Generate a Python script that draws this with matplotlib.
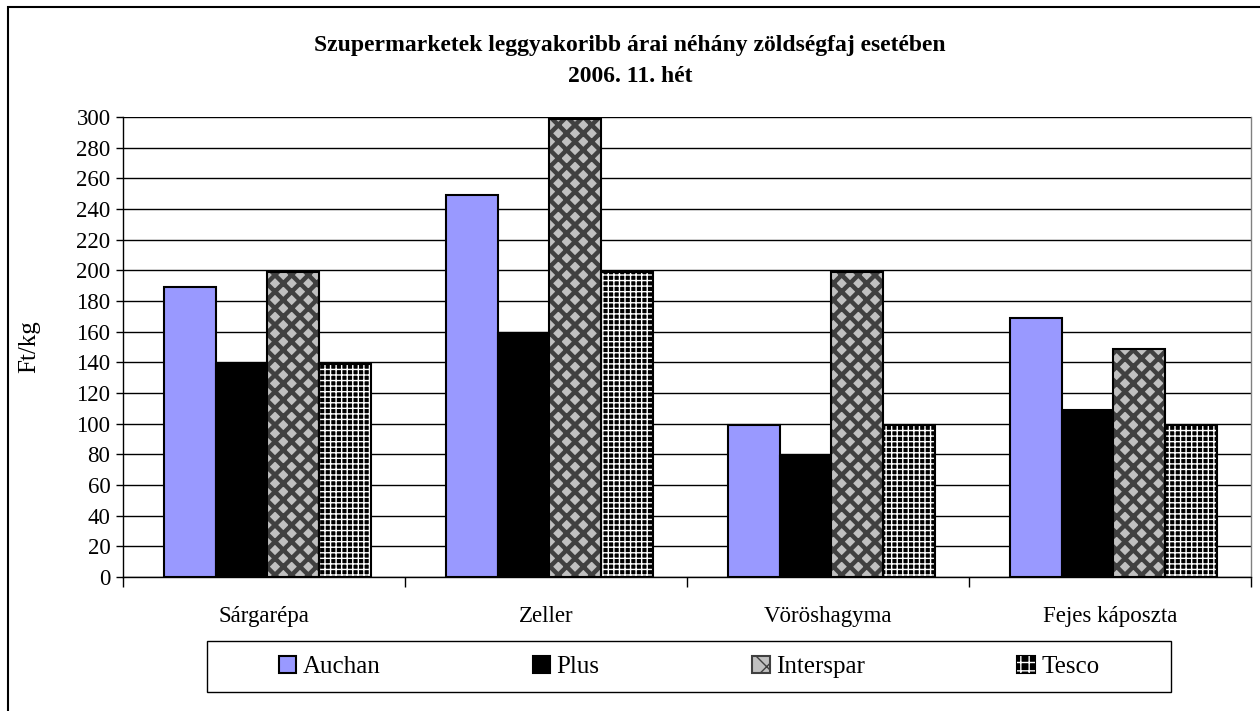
import numpy as np
import matplotlib
matplotlib.use("Agg")
import matplotlib.pyplot as plt
import matplotlib.patches as mpatches

plt.rcParams['font.family'] = ['Liberation Serif', 'DejaVu Serif']

# adatok
kategoriak = ['Sárgarépa', 'Zeller', 'Vöröshagyma', 'Fejes káposzta']
auchan = [189, 249, 99, 169]
plus = [139, 159, 79, 109]
interspar = [199, 299, 199, 149]
tesco = [139, 199, 99, 99]
boltok = ['Auchan', 'Plus', 'Interspar', 'Tesco']
y_ticks = list(range(0, 301, 20))

fig = plt.figure(figsize=(12.6, 7.11), dpi=100)
ax = fig.add_axes([123 / 1260, 1 - 577 / 711, 1128 / 1260, 460 / 711])

x = np.arange(len(kategoriak)) + 0.012
w = 0.183


def hatch_lw(patches, lw):
    for p in patches:
        if hasattr(p, 'set_hatch_linewidth'):
            p.set_hatch_linewidth(lw)


# Auchan
ax.bar(x - 1.5 * w, auchan, w, color='#9999ff', edgecolor='black', linewidth=1.5, zorder=3)
# Plus
ax.bar(x - 0.5 * w, plus, w, color='black', edgecolor='black', linewidth=1.5, zorder=3)
# Interspar - rombusz minta
with plt.rc_context({'hatch.linewidth': 3.2}):
    b = ax.bar(x + 0.5 * w, interspar, w, color='#c0c0c0', edgecolor='#404040',
               linewidth=0, hatch='xx', zorder=3)
    hatch_lw(b, 3.2)
ax.bar(x + 0.5 * w, interspar, w, color='none', edgecolor='black', linewidth=1.5, zorder=4)
# Tesco - racs minta
ax.bar(x + 1.5 * w, tesco, w, color='black', edgecolor='black', linewidth=0, zorder=3)
with plt.rc_context({'hatch.linewidth': 1.0}):
    b = ax.bar(x + 1.5 * w, tesco, w, color='none', edgecolor='white',
               linewidth=0, hatch='+++', zorder=3)
    hatch_lw(b, 1.0)
ax.bar(x + 1.5 * w, tesco, w, color='none', edgecolor='black', linewidth=1.5, zorder=4)

ax.set_xlim(-0.5, len(kategoriak) - 0.5)
ax.set_ylim(0, 300)
ax.set_yticks(y_ticks)
ax.yaxis.grid(True, color='black', linewidth=1)
ax.set_axisbelow(True)

ax.set_xticks(np.arange(len(kategoriak)))
ax.set_xticklabels(kategoriak)
ax.set_xticks(np.arange(len(kategoriak) + 1) - 0.5, minor=True)
ax.tick_params(axis='x', which='major', length=0, pad=21, labelsize=16.5)
ax.tick_params(axis='x', which='minor', length=7, width=1)
ax.tick_params(axis='y', length=5, width=1, pad=4, labelsize=16.5)

ax.spines['top'].set_visible(False)
ax.spines['right'].set_color('#808080')
ax.spines['right'].set_linewidth(1)
ax.spines['left'].set_linewidth(1)
ax.spines['bottom'].set_linewidth(1)

ax.set_ylabel('Ft/kg', fontsize=18)
ax.yaxis.set_label_coords(-0.073, 0.5)

fig.text(0.5, 1 - 45 / 711, 'Szupermarketek leggyakoribb árai néhány zöldségfaj esetében',
         ha='center', va='center', fontsize=17, fontweight='bold')
fig.text(0.5, 1 - 77 / 711, '2006. 11. hét', ha='center', va='center',
         fontsize=17, fontweight='bold')

# jelmagyarazat
h1 = mpatches.Patch(facecolor='#9999ff', edgecolor='black', linewidth=1.5)
h2 = mpatches.Patch(facecolor='black', edgecolor='black', linewidth=1.5)
with plt.rc_context({'hatch.linewidth': 3.0}):
    h3 = mpatches.Patch(facecolor='#c0c0c0', edgecolor='#404040', hatch='x', linewidth=1.5)
    hatch_lw([h3], 3.0)
with plt.rc_context({'hatch.linewidth': 1.0}):
    h4a = mpatches.Patch(facecolor='black', edgecolor='black', linewidth=1.5)
    h4b = mpatches.Patch(facecolor='none', edgecolor='white', hatch='++', linewidth=0)
    hatch_lw([h4b], 1.0)
leg = fig.legend([h1, h2, h3, (h4a, h4b)], boltok, loc='center', ncol=4,
                 bbox_to_anchor=(689 / 1260, 1 - 667 / 711),
                 fontsize=18, frameon=False,
                 handlelength=0.7, handleheight=0.7, handletextpad=0.25,
                 columnspacing=6.1, borderaxespad=0)

# jelmagyarazat keret
fig.patches.append(mpatches.Rectangle((207 / 1260, 1 - 692 / 711), 964 / 1260, 51 / 711,
                                      transform=fig.transFigure, fill=False,
                                      edgecolor='black', linewidth=1))

# kulso keret
keret = mpatches.Rectangle((8 / 1260, -0.1), 1.2, 1 - 7 / 711 + 0.1, transform=fig.transFigure,
                           fill=False, edgecolor='black', linewidth=1.5)
fig.patches.append(keret)

fig.savefig('out.png', dpi=100)
